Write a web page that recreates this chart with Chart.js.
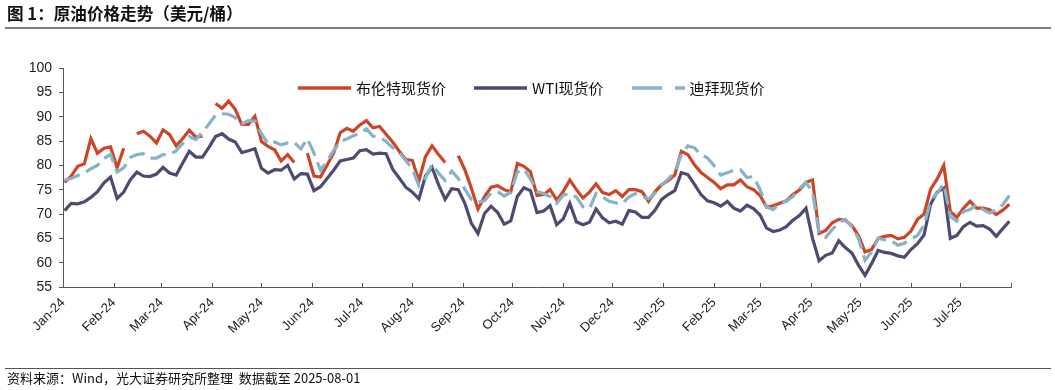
<!DOCTYPE html>
<html>
<head>
<meta charset="utf-8">
<script src="https://cdn.jsdelivr.net/npm/chart.js@4.4.1/dist/chart.umd.min.js"></script>
<style>
html,body{margin:0;padding:0;background:#fff;}
#wrap{position:relative;width:1055px;height:390px;overflow:hidden;background:#fff;font-family:"Noto Sans CJK SC","Liberation Sans",sans-serif;}
#chart{position:absolute;left:0;top:0;}
#title{position:absolute;left:7px;top:2px;font-size:16.6px;font-weight:bold;color:#111;white-space:nowrap;line-height:22px;}
#tline{position:absolute;left:5px;right:4px;top:27px;height:0;border-top:2px solid #7f7f7f;}
#fline{position:absolute;left:5px;right:4px;top:368px;height:0;border-top:1px solid #555;}
#foot{position:absolute;left:7px;top:369px;font-size:13px;color:#111;white-space:nowrap;line-height:18px;}
#legend{position:absolute;left:298px;top:79px;height:17px;display:flex;align-items:center;font-size:15px;color:#111;white-space:nowrap;}
#legend .item{display:flex;align-items:center;margin-right:28px;}
#legend svg{display:block;margin-right:5px;}
</style>
</head>
<body>
<div id="wrap">
  <canvas id="chart" width="1055" height="390"></canvas>
  <div id="title">图 1：原油价格走势（美元/桶）</div>
  <div id="tline"></div>
  <div id="legend"></div>
  <div id="fline"></div>
  <div id="foot">资料来源：Wind，光大证券研究所整理&nbsp; 数据截至 2025-08-01</div>
</div>
<script>
const dates = [
'2024-01-02','2024-01-06','2024-01-10','2024-01-14','2024-01-18','2024-01-22','2024-01-26','2024-01-30',
'2024-02-03','2024-02-07','2024-02-11','2024-02-15','2024-02-19','2024-02-23','2024-02-27',
'2024-03-02','2024-03-06','2024-03-10','2024-03-14','2024-03-18','2024-03-22','2024-03-26','2024-03-30',
'2024-04-03','2024-04-07','2024-04-11','2024-04-15','2024-04-19','2024-04-23','2024-04-27',
'2024-05-01','2024-05-05','2024-05-09','2024-05-13','2024-05-17','2024-05-21','2024-05-25','2024-05-29',
'2024-06-02','2024-06-06','2024-06-10','2024-06-14','2024-06-18','2024-06-22','2024-06-26','2024-06-30',
'2024-07-04','2024-07-08','2024-07-12','2024-07-16','2024-07-20','2024-07-24','2024-07-28',
'2024-08-01','2024-08-05','2024-08-09','2024-08-13','2024-08-17','2024-08-21','2024-08-25','2024-08-29',
'2024-09-02','2024-09-06','2024-09-10','2024-09-14','2024-09-18','2024-09-22','2024-09-26','2024-09-30',
'2024-10-04','2024-10-08','2024-10-12','2024-10-16','2024-10-20','2024-10-24','2024-10-28',
'2024-11-01','2024-11-05','2024-11-09','2024-11-13','2024-11-17','2024-11-21','2024-11-25','2024-11-29',
'2024-12-03','2024-12-07','2024-12-11','2024-12-15','2024-12-19','2024-12-23','2024-12-27','2024-12-31',
'2025-01-04','2025-01-08','2025-01-12','2025-01-16','2025-01-20','2025-01-24','2025-01-28',
'2025-02-01','2025-02-05','2025-02-09','2025-02-13','2025-02-17','2025-02-21','2025-02-25',
'2025-03-01','2025-03-05','2025-03-09','2025-03-13','2025-03-17','2025-03-21','2025-03-25','2025-03-29',
'2025-04-02','2025-04-06','2025-04-10','2025-04-14','2025-04-18','2025-04-22','2025-04-26','2025-04-30',
'2025-05-04','2025-05-08','2025-05-12','2025-05-16','2025-05-20','2025-05-24','2025-05-28',
'2025-06-01','2025-06-05','2025-06-09','2025-06-13','2025-06-17','2025-06-21','2025-06-25','2025-06-29',
'2025-07-03','2025-07-07','2025-07-11','2025-07-15','2025-07-19','2025-07-23','2025-07-27','2025-07-31'
];
const brent = [
76.5,77.8,79.8,80.3,85.5,82.5,83.5,83.8,79.5,83.5,
null,86.5,87,86,84.6,87.3,86.3,84,85.5,87.2,
85.8,86,null,92.7,91.7,93.2,91.5,88.4,88.4,90.1,
84.9,83.9,83.2,80.9,82.2,80.6,null,82.5,77.8,77.6,
80,82.5,86.7,87.6,87,88.3,89.2,87.7,88,86.4,
84.8,82.9,81.2,81,76.8,81.8,84,82.2,80.6,null,
82,79.1,75.3,71,73.6,75.5,75.8,75,74.5,80.4,
79.8,78.7,73.8,74,75,72.9,74.6,77,75,73.3,
74.5,76.2,74.4,74,74.8,73.6,75,75,74.6,72.6,
74.6,76,76.9,78,82.9,82.2,80.1,78.5,77.5,76.5,
75.2,76,76,77,75.6,75,73.8,71.4,71.7,72.2,
72.7,74,74.9,76.5,77,66,66.6,68.2,68.9,68.7,
67.6,65.6,62.2,62.7,65,65.4,65.6,64.9,65.2,66.5,
68.9,70,75.1,77.2,80,70.5,69.3,71.2,72.6,71.2,
71.2,70.9,69.9,70.8,72
];
const wti = [
70.7,72.2,72.1,72.5,73.4,74.6,76.4,77.6,73.2,74.5,
77,78.6,77.8,77.7,78.2,79.6,78.4,78,80.5,82.9,
81.7,81.7,83.7,85.9,86.5,85.4,84.8,82.6,83,83.4,
79.4,78.4,79.1,79,80,77.2,78.3,78.2,74.8,75.6,
77.3,79,80.9,81.2,81.5,83,83.2,82.3,82.5,82.4,
79.2,77.4,75.5,74.5,73.1,77.8,79.6,76,73,75.2,
75,72.2,68.1,66,70.1,71.6,70.3,67.9,68.6,73.6,
75.4,74.8,70.3,70.6,71.7,67.8,69,72.2,68.4,67.8,
68.3,71,69.2,68.2,68.5,67.9,70.7,70.4,69.3,69.3,
70.8,73,74,74.8,78.5,78.1,76.1,74,72.7,72.3,
71.6,72.6,71.2,70.6,71.8,71.1,69.8,67.1,66.4,66.7,
67.4,68.7,69.7,71.2,65,60.4,61.5,62,64.5,63.1,
62,59.5,57.4,59.8,62.5,62.1,61.9,61.4,61.1,62.7,
63.9,65.7,72,74.5,75.3,65,65.6,67.4,68.3,67.5,
67.6,66.9,65.4,67,68.5
];
const dubai = [
77,77.3,77.9,78.4,79.3,80,81.4,82.3,78.6,79.5,
81.6,82.2,82.4,81.5,81.5,82.2,82.2,83,84.5,85.9,
85.3,86.8,88.5,90.3,90.6,90.5,89.8,88.5,89.2,89.1,
86.5,84.4,84.8,84.2,84.6,84.7,83.4,85.5,82.5,79,
80.9,83,84.9,85.4,86.1,86.6,87.5,86,85.8,84.9,
83.6,82.6,81,79.3,75.8,77.4,80.2,78.4,76.9,78.8,
77.3,75.1,73,72.4,72.7,74.3,74.6,73.7,74.5,78.6,
79.2,77.2,74.6,74.2,73.6,72.2,73.9,74.2,73.5,71.5,
71.1,74.2,73.5,72.6,72.3,72.1,73.5,74.2,73.6,73.1,
74.3,75.9,77.2,78.6,82.2,84,83.6,82.2,81.5,79.9,
78,78.5,79,79.1,77.5,77.7,75,71.5,70.9,72.2,
72.6,73.6,75.2,76.5,74.5,66,65.2,66.8,68.3,68.9,
67.4,65,60.5,62.2,65,64.7,64.5,63.6,64,64.8,
65.6,67.7,72.7,74.3,76.2,69.5,68.5,70.5,70.9,71.9,
70.9,70.2,70.8,71.9,73.8
];
const seriesNames = ['布伦特现货价','WTI现货价','迪拜现货价'];
const monthTicks = ['2024-01-01','2024-02-01','2024-03-01','2024-04-01','2024-05-01','2024-06-01','2024-07-01',
'2024-08-01','2024-09-01','2024-10-01','2024-11-01','2024-12-01','2025-01-01','2025-02-01','2025-03-01',
'2025-04-01','2025-05-01','2025-06-01','2025-07-01','2025-08-01'];
const monthLabels = ['Jan-24','Feb-24','Mar-24','Apr-24','May-24','Jun-24','Jul-24','Aug-24','Sep-24','Oct-24',
'Nov-24','Dec-24','Jan-25','Feb-25','Mar-25','Apr-25','May-25','Jun-25','Jul-25',''];
const yTicks = [55,60,65,70,75,80,85,90,95,100];

// ---- styles ----
const colors = ['#CD4527','#4D4B70','#86B3C8'];
const dashes = [[],[],[16,7]];

const T0 = Date.parse('2024-01-01');
const dayOf = s => (Date.parse(s) - T0) / 86400000;
const toPts = vals => dates.map((d, i) => ({x: dayOf(d), y: vals[i]}));
const allVals = [brent, wti, dubai];

const tickMarks = {
  id: 'tickMarks',
  beforeDatasetsDraw(chart) {
    const {ctx, chartArea: a, scales: {x}} = chart;
    ctx.save();
    ctx.strokeStyle = '#555';
    ctx.lineWidth = 1;
    ctx.beginPath();
    x.ticks.forEach(t => {
      const px = Math.round(x.getPixelForValue(t.value)) + 0.5;
      ctx.moveTo(px, a.bottom);
      ctx.lineTo(px, a.bottom - 4);
    });
    ctx.stroke();
    ctx.restore();
  }
};

const chart = new Chart(document.getElementById('chart'), {
  type: 'line',
  data: {
    datasets: allVals.map((v, i) => ({
      label: seriesNames[i],
      data: toPts(v),
      borderColor: colors[i],
      backgroundColor: colors[i],
      borderWidth: 3.2,
      borderDash: dashes[i],
      pointRadius: 0,
      tension: 0,
      spanGaps: false,
      order: 2 - i
    }))
  },
  options: {
    responsive: false,
    animation: false,
    events: [],
    layout: {padding: {left: 0, top: 68, right: 44, bottom: 43}},
    plugins: {legend: {display: false}, tooltip: {enabled: false}},
    scales: {
      x: {
        type: 'linear',
        min: dayOf(monthTicks[0]),
        max: dayOf(monthTicks[monthTicks.length - 1]),
        afterBuildTicks: s => { s.ticks = monthTicks.map(d => ({value: dayOf(d)})); },
        afterFit: s => { s.height = 60; },
        grid: {display: false, drawTicks: false},
        border: {display: true, color: '#555', width: 1},
        ticks: {
          autoSkip: false, minRotation: 45, maxRotation: 45, padding: 8,
          color: '#222', font: {family: 'Liberation Sans', size: 13},
          callback: (v, i) => monthLabels[i]
        }
      },
      y: {
        min: 55, max: 100,
        afterBuildTicks: s => { s.ticks = yTicks.map(v => ({value: v})); },
        afterFit: s => { s.width = 63; },
        grid: {display: true, drawOnChartArea: false, drawTicks: true, tickLength: 4, color: '#555'},
        border: {display: true, color: '#555', width: 1},
        ticks: {padding: 7, color: '#222', font: {family: 'Liberation Sans', size: 14}, callback: v => String(v)}
      }
    }
  },
  plugins: [tickMarks]
});

// ---- HTML legend built from the datasets ----
const lg = document.getElementById('legend');
chart.data.datasets.forEach(ds => {
  const item = document.createElement('div');
  item.className = 'item';
  const dash = (ds.borderDash && ds.borderDash.length) ? ` stroke-dasharray="30 13"` : '';
  item.innerHTML = `<svg width="53" height="16"><line x1="0" y1="8" x2="53" y2="8" stroke="${ds.borderColor}" stroke-width="3.6"${dash}/></svg><span>${ds.label}</span>`;
  lg.appendChild(item);
});
</script>
</body>
</html>
